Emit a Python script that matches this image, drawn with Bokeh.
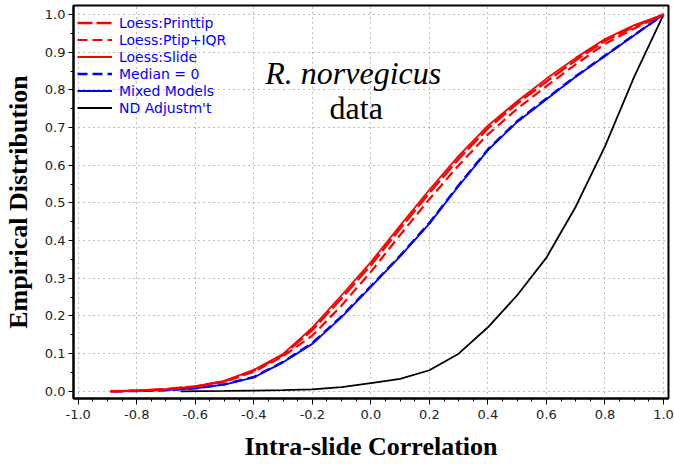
import numpy as np
from bokeh.plotting import figure
from bokeh.models import Range1d, FixedTicker, Legend, LegendItem, Label
from bokeh.embed import file_html
from bokeh.resources import INLINE

# ---- data ----
x_red = [-0.89, -0.8, -0.7, -0.6, -0.5, -0.4, -0.3, -0.2, -0.1, 0.0,
         0.1, 0.2, 0.3, 0.4, 0.5, 0.6, 0.7, 0.8, 0.9, 1.0]
loess_slide = [0.0, 0.002, 0.006, 0.013, 0.028, 0.057, 0.099, 0.169, 0.255, 0.343,
               0.44, 0.535, 0.625, 0.705, 0.77, 0.83, 0.885, 0.935, 0.972, 1.0]
loess_printtip = [0.0, 0.002, 0.006, 0.013, 0.027, 0.055, 0.097, 0.163, 0.247, 0.335,
                  0.432, 0.527, 0.617, 0.698, 0.764, 0.822, 0.879, 0.93, 0.968, 1.0]
loess_ptip_iqr = [0.0, 0.002, 0.005, 0.012, 0.025, 0.052, 0.093, 0.148, 0.228, 0.317,
                  0.415, 0.51, 0.6, 0.682, 0.75, 0.81, 0.868, 0.922, 0.963, 1.0]
x_blue = [-0.88, -0.8, -0.7, -0.6, -0.5, -0.4, -0.3, -0.2, -0.1, 0.0,
          0.1, 0.2, 0.3, 0.4, 0.5, 0.6, 0.7, 0.8, 0.9, 1.0]
median_zero = [0.0, 0.001, 0.003, 0.008, 0.019, 0.038, 0.078, 0.128, 0.199, 0.279,
               0.36, 0.447, 0.547, 0.642, 0.717, 0.777, 0.836, 0.891, 0.946, 1.0]
mixed_models = [0.0, 0.001, 0.003, 0.008, 0.018, 0.037, 0.077, 0.126, 0.197, 0.277,
                0.358, 0.445, 0.545, 0.64, 0.715, 0.775, 0.835, 0.89, 0.945, 1.0]
x_black = [-0.65, -0.5, -0.4, -0.3, -0.2, -0.1, 0.0, 0.1, 0.2, 0.3,
           0.4, 0.5, 0.6, 0.7, 0.8, 0.9, 1.0]
nd_adjust = [0.0, 0.001, 0.002, 0.003, 0.005, 0.011, 0.022, 0.033, 0.056, 0.10,
             0.17, 0.255, 0.355, 0.49, 0.65, 0.835, 1.0]

x_ticks = [-1.0, -0.8, -0.6, -0.4, -0.2, 0.0, 0.2, 0.4, 0.6, 0.8, 1.0]
x_tick_labels = ["-1.0", "-0.8", "-0.6", "-0.4", "-0.2", "0.0", "0.2", "0.4", "0.6", "0.8", "1.0"]
y_ticks = [0.0, 0.1, 0.2, 0.3, 0.4, 0.5, 0.6, 0.7, 0.8, 0.9, 1.0]
y_tick_labels = ["0.0", "0.1", "0.2", "0.3", "0.4", "0.5", "0.6", "0.7", "0.8", "0.9", "1.0"]

x_title = "Intra-slide Correlation"
y_title = "Empirical Distribution"
species = "R. norvegicus"
subtitle = "data"

# ---- figure ----
p = figure(width=674, height=464, output_backend="svg", toolbar_location=None,
           x_range=Range1d(-1.016, 1.017), y_range=Range1d(-0.019, 1.024),
           min_border_left=73, min_border_right=6, min_border_top=5, min_border_bottom=66)
p.background_fill_color = "white"
p.border_fill_color = "white"
p.outline_line_color = "black"
p.outline_line_width = 2

p.xaxis.ticker = FixedTicker(ticks=x_ticks, minor_ticks=list(np.round(np.arange(-1.0, 1.001, 0.05), 2)))
p.yaxis.ticker = FixedTicker(ticks=y_ticks, minor_ticks=list(np.round(np.arange(0.0, 1.001, 0.05), 2)))
p.xaxis.major_label_overrides = {t: s for t, s in zip(x_ticks, x_tick_labels)}
p.yaxis.major_label_overrides = {t: s for t, s in zip(y_ticks, y_tick_labels)}

for ax in (p.xaxis[0], p.yaxis[0]):
    ax.axis_line_width = 2
    ax.axis_line_color = "black"
    ax.major_tick_in = 0
    ax.minor_tick_in = 0
    ax.minor_tick_out = 3
    ax.major_tick_line_color = "black"
    ax.minor_tick_line_color = "black"
    ax.major_label_text_font = "DejaVu Sans"
    ax.major_label_text_font_size = "13px"
    ax.major_label_text_color = "#222222"
    ax.axis_label_text_font = "Liberation Serif"
    ax.axis_label_text_font_style = "bold"
    ax.axis_label_text_font_size = "26px"
    ax.axis_label_text_color = "black"
p.xaxis.major_tick_out = 6
p.yaxis.major_tick_out = 5
p.xaxis.major_label_standoff = 5
p.yaxis.major_label_standoff = 3

p.xaxis.axis_label = x_title
p.xaxis.axis_label_standoff = 10
p.yaxis.axis_label = y_title
p.yaxis.axis_label_standoff = 9

p.grid.grid_line_color = "#808080"
p.grid.grid_line_dash = "1 4"
p.grid.grid_line_width = 1

# ---- curves ----
r_nd = p.line(x_black, nd_adjust, line_color="black", line_width=1.8)
r_mm = p.line(x_blue, mixed_models, line_color="#0000ff", line_width=1.8)
r_md = p.line(x_blue, median_zero, line_color="#0000ff", line_width=2.5, line_dash="10 5")
r_iq = p.line(x_red, loess_ptip_iqr, line_color="#ff0000", line_width=2.2, line_dash="10 5")
r_sl = p.line(x_red, loess_slide, line_color="#ff0000", line_width=1.8)
r_pt = p.line(x_red, loess_printtip, line_color="#ff0000", line_width=2.5, line_dash="15 4")

legend = Legend(items=[
    LegendItem(label="Loess:Printtip", renderers=[r_pt]),
    LegendItem(label="Loess:Ptip+IQR", renderers=[r_iq]),
    LegendItem(label="Loess:Slide", renderers=[r_sl]),
    LegendItem(label="Median = 0", renderers=[r_md]),
    LegendItem(label="Mixed Models", renderers=[r_mm]),
    LegendItem(label="ND Adjustm't", renderers=[r_nd]),
], location=(4, 282))
legend.border_line_color = None
legend.background_fill_alpha = 0
legend.padding = 0
legend.margin = 0
legend.spacing = 0
legend.label_height = 17
legend.glyph_height = 17
legend.glyph_width = 35
legend.label_standoff = 7
legend.label_text_font = "DejaVu Sans"
legend.label_text_font_size = "14px"
legend.label_text_color = "#0000ff"
p.add_layout(legend)

# ---- text annotations ----
p.add_layout(Label(x=-0.06, y=0.845, text=species, text_font="Liberation Serif",
                   text_font_style="italic", text_font_size="32px", text_color="black",
                   text_align="center", text_baseline="alphabetic"))
p.add_layout(Label(x=-0.05, y=0.753, text=subtitle, text_font="Liberation Serif",
                   text_font_size="32px", text_color="black",
                   text_align="center", text_baseline="alphabetic"))

open("out.html", "w").write(file_html(p, INLINE))
